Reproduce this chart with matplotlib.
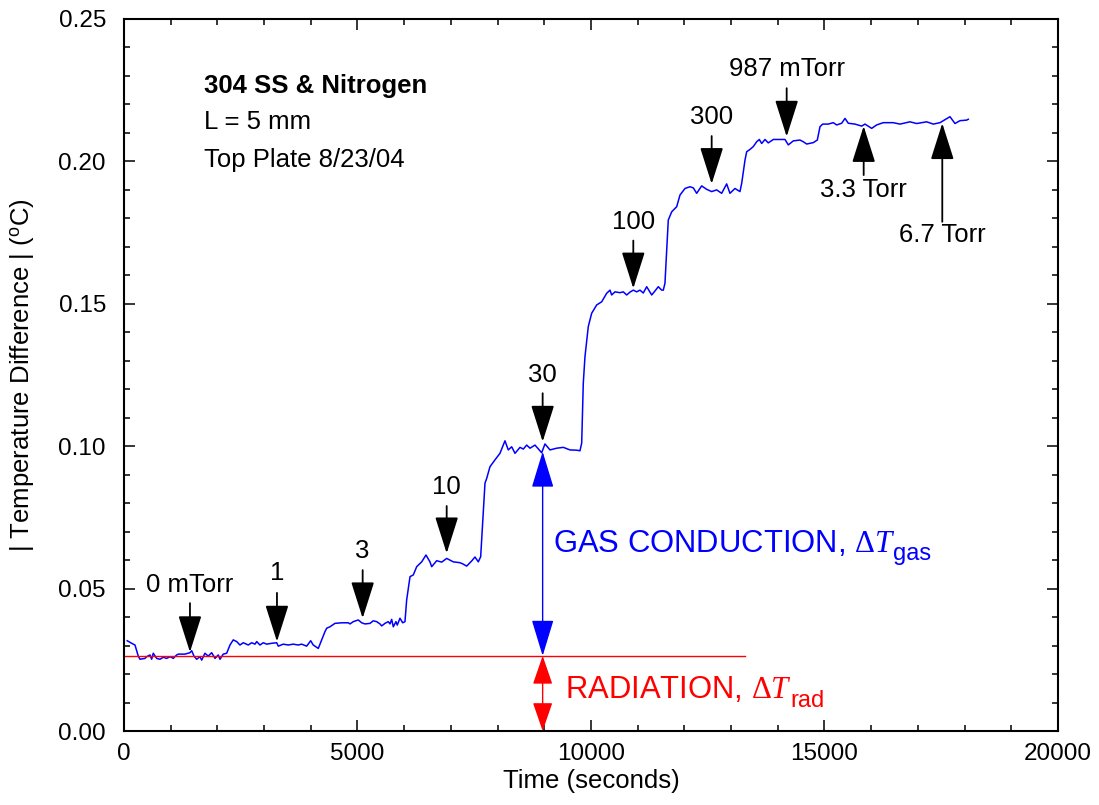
import matplotlib
matplotlib.use("Agg")
import matplotlib.pyplot as plt
from matplotlib.ticker import MultipleLocator

plt.rcParams['font.family'] = ['Liberation Sans', 'DejaVu Sans']
plt.rcParams['mathtext.fontset'] = 'custom'
plt.rcParams['mathtext.rm'] = 'Liberation Serif'
plt.rcParams['mathtext.it'] = 'Liberation Serif:italic'
plt.rcParams['mathtext.sf'] = 'Liberation Sans'

time_s = [70, 165, 236, 306, 343, 450, 486, 557, 593, 627, 700, 771, 842, 914, 985,
          1056, 1128, 1163, 1306, 1413, 1450, 1499, 1557, 1627, 1664, 1734, 1805, 1878,
          1949, 2019, 2056, 2126, 2199, 2270, 2340, 2413, 2484, 2555, 2662, 2734, 2805,
          2842, 2912, 2983, 3056, 3163, 3270, 3304, 3411, 3518, 3625, 3732, 3805, 3912,
          3998, 4053, 4161, 4233, 4304, 4341, 4411, 4518, 4662, 4803, 4839, 4910, 5017,
          5090, 5160, 5268, 5338, 5411, 5482, 5518, 5589, 5659, 5696, 5732, 5767, 5824,
          5852, 5910, 5968, 6017, 6053, 6125, 6195, 6268, 6375, 6467, 6552, 6589, 6696,
          6803, 6910, 6981, 7051, 7195, 7265, 7338, 7445, 7516, 7587, 7638, 7730, 7767,
          7837, 7944, 8051, 8158, 8229, 8302, 8373, 8480, 8551, 8623, 8694, 8801, 8944,
          9015, 9122, 9265, 9407, 9550, 9693, 9764, 9801, 9835, 9871, 9942, 10015, 10122,
          10229, 10336, 10407, 10443, 10514, 10621, 10692, 10764, 10835, 10906, 10978,
          11049, 11120, 11193, 11300, 11370, 11441, 11514, 11548, 11584, 11655, 11728,
          11835, 11906, 12013, 12120, 12191, 12263, 12370, 12477, 12584, 12691, 12798,
          12905, 12976, 13083, 13190, 13227, 13298, 13334, 13404, 13475, 13548, 13604,
          13655, 13726, 13796, 13904, 14047, 14154, 14225, 14332, 14475, 14546, 14619,
          14760, 14846, 14904, 14961, 15081, 15188, 15261, 15368, 15439, 15509, 15653,
          15796, 15867, 16010, 16117, 16259, 16473, 16616, 16830, 16974, 17188, 17330,
          17473, 17687, 17794, 17901, 18045, 18079]
delta_t = [0.0317, 0.0308, 0.0302, 0.0263, 0.0252, 0.0255, 0.0261, 0.0267, 0.0252, 0.0273,
           0.0255, 0.0252, 0.0259, 0.0255, 0.0261, 0.0255, 0.0267, 0.0270, 0.0270, 0.0275,
           0.0282, 0.0263, 0.0252, 0.0261, 0.0249, 0.0273, 0.0263, 0.0275, 0.0255, 0.0267,
           0.0252, 0.0270, 0.0273, 0.0302, 0.0320, 0.0314, 0.0302, 0.0310, 0.0302, 0.0310,
           0.0305, 0.0314, 0.0302, 0.0310, 0.0305, 0.0308, 0.0310, 0.0298, 0.0305, 0.0302,
           0.0305, 0.0302, 0.0305, 0.0298, 0.0317, 0.0302, 0.0290, 0.0320, 0.0349, 0.0361,
           0.0366, 0.0378, 0.0380, 0.0380, 0.0376, 0.0384, 0.0390, 0.0380, 0.0376, 0.0378,
           0.0387, 0.0384, 0.0376, 0.0369, 0.0378, 0.0384, 0.0376, 0.0392, 0.0366, 0.0384,
           0.0372, 0.0396, 0.0380, 0.0384, 0.0460, 0.0542, 0.0548, 0.0577, 0.0594, 0.0618,
           0.0594, 0.0577, 0.0598, 0.0593, 0.0606, 0.0600, 0.0594, 0.0591, 0.0586, 0.0579,
           0.0597, 0.0611, 0.0594, 0.0612, 0.0870, 0.0887, 0.0928, 0.0952, 0.0975, 0.1019,
           0.0987, 0.0998, 0.0975, 0.0996, 0.0990, 0.1004, 0.0993, 0.1004, 0.0977, 0.1008,
           0.0987, 0.0993, 0.0996, 0.0987, 0.0986, 0.0984, 0.1011, 0.1221, 0.1314, 0.1420,
           0.1467, 0.1496, 0.1507, 0.1537, 0.1548, 0.1531, 0.1542, 0.1539, 0.1542, 0.1531,
           0.1541, 0.1548, 0.1542, 0.1548, 0.1538, 0.1560, 0.1531, 0.1545, 0.1560, 0.1548,
           0.1548, 0.1572, 0.1794, 0.1823, 0.1841, 0.1882, 0.1905, 0.1911, 0.1907, 0.1888,
           0.1914, 0.1902, 0.1894, 0.1900, 0.1888, 0.1921, 0.1888, 0.1905, 0.1894, 0.1923,
           0.2005, 0.2034, 0.2042, 0.2052, 0.2069, 0.2077, 0.2063, 0.2077, 0.2065, 0.2077,
           0.2077, 0.2077, 0.2058, 0.2072, 0.2075, 0.2069, 0.2061, 0.2066, 0.2075, 0.2122,
           0.2131, 0.2131, 0.2136, 0.2128, 0.2134, 0.2151, 0.2134, 0.2131, 0.2124, 0.2131,
           0.2116, 0.2128, 0.2136, 0.2136, 0.2131, 0.2139, 0.2133, 0.2139, 0.2131, 0.2136,
           0.2157, 0.2133, 0.2143, 0.2145, 0.2148]

# radiation baseline
rad_level = 0.0264
rad_end = 13300

# pressure markers
press_labels = ['0 mTorr', '1', '3', '10', '30', '100', '300', '987 mTorr', '3.3 Torr', '6.7 Torr']
press_x = [1413, 3276, 5111, 6910, 8965, 10906, 12584, 14190, 15839, 17522]
tip_y = [0.0277, 0.0314, 0.0396, 0.0624, 0.1016, 0.1554, 0.1921, 0.2087, 0.2124, 0.2134]
tail_y = [0.0449, 0.0485, 0.0565, 0.0790, 0.1186, 0.1722, 0.2089, 0.2257, 0.1952, 0.1788]
label_y = [0.0513, 0.0555, 0.0632, 0.0858, 0.1250, 0.1788, 0.2157, 0.2323, 0.1900, 0.1742]

gas_x = 8965
gas_top = 0.0981

fig = plt.figure(figsize=(10.99, 8.05), dpi=100)
ax = fig.add_axes([0.1128, 0.0919, 0.8499, 0.8845])

ax.plot(time_s, delta_t, color='#0000ff', lw=1.1)
ax.plot([0, rad_end], [rad_level, rad_level], color='#ff0000', lw=1.0)

for lab, x, ty, sy, ly in zip(press_labels, press_x, tip_y, tail_y, label_y):
    ax.annotate('', xy=(x, ty), xytext=(x, sy),
                arrowprops=dict(arrowstyle='-|>,head_length=23,head_width=7.3',
                                mutation_scale=1, color='black', lw=1.3,
                                shrinkA=0, shrinkB=0))
    ax.text(x, ly, lab, ha='center', va='center', fontsize=18.5)

ax.annotate('', xy=(gas_x, gas_top), xytext=(gas_x, rad_level),
            arrowprops=dict(arrowstyle='<|-|>,head_length=23,head_width=7.0',
                            mutation_scale=1, color='#0000ff', lw=1.0,
                            shrinkA=0, shrinkB=0))
ax.annotate('', xy=(gas_x, 0.0), xytext=(gas_x, rad_level),
            arrowprops=dict(arrowstyle='<|-|>,head_length=18,head_width=6.2',
                            mutation_scale=1, color='#ff0000', lw=1.0,
                            shrinkA=0, shrinkB=0))

ax.text(9180, 0.063, r'GAS CONDUCTION, $\Delta T$',
        color='#0000ff', fontsize=22.3, va='baseline')
ax.text(16460, 0.0600, 'gas', color='#0000ff', fontsize=17, va='baseline')
ax.text(9443, 0.0115, r'RADIATION, $\Delta T$',
        color='#ff0000', fontsize=22.3, va='baseline')
ax.text(14270, 0.0085, 'rad', color='#ff0000', fontsize=17, va='baseline')

ax.text(1713, 0.2241, '304 SS & Nitrogen', fontsize=18.5, fontweight='bold', va='baseline')
ax.text(1713, 0.2113, 'L = 5 mm', fontsize=18.5, va='baseline')
ax.text(1713, 0.1981, 'Top Plate 8/23/04', fontsize=18.5, va='baseline')

ax.set_xlim(0, 20000)
ax.set_ylim(0, 0.25)
ax.xaxis.set_major_locator(MultipleLocator(5000))
ax.xaxis.set_minor_locator(MultipleLocator(1000))
ax.yaxis.set_major_locator(MultipleLocator(0.05))
ax.yaxis.set_minor_locator(MultipleLocator(0.01))
ax.yaxis.set_major_formatter(plt.FuncFormatter(lambda v, p: '%.2f' % v))

ax.tick_params(which='both', direction='in', top=True, right=True, width=1.1, labelsize=17.5)
ax.tick_params(which='major', length=8)
ax.tick_params(which='minor', length=4.3)
ax.tick_params(axis='y', pad=13)
ax.tick_params(axis='x', pad=8.5)
for s in ax.spines.values():
    s.set_linewidth(1.5)

ax.set_xlabel('Time (seconds)', fontsize=18.5, labelpad=3)
ax.set_ylabel(r'| Temperature Difference | ($^{\mathsf{o}}$C)', fontsize=18.5, labelpad=16)

fig.savefig('out.png', dpi=100)
